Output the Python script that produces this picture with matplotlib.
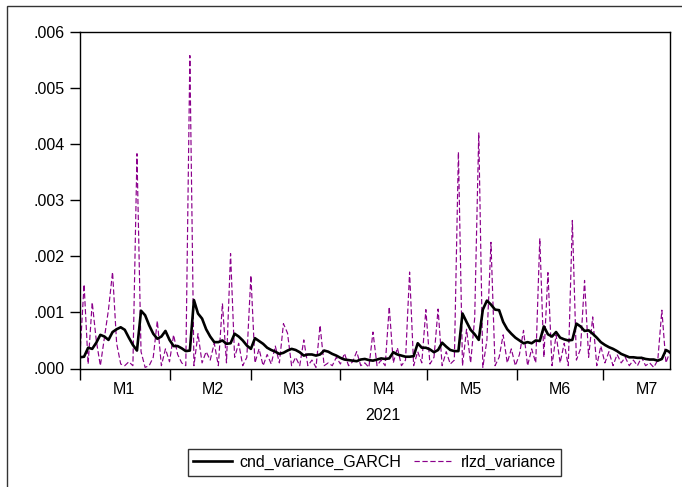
import pandas as pd
import matplotlib
matplotlib.use("Agg")
import matplotlib.pyplot as plt
from matplotlib.patches import Rectangle

plt.rcParams["font.family"] = ["Liberation Sans", "DejaVu Sans"]

# 146 observations spread evenly over 2021-01-01 .. 2021-07-24
dates = pd.date_range("2021-01-01", "2021-07-24", periods=146)

# values, in units of 0.001
garch = [
    0.20, 0.21, 0.37, 0.35, 0.46, 0.60, 0.57, 0.51, 0.65, 0.70,
    0.735, 0.69, 0.55, 0.42, 0.32, 1.03, 0.95, 0.77, 0.62, 0.53,
    0.57, 0.67, 0.51, 0.40, 0.40, 0.36, 0.31, 0.32, 1.22, 0.98,
    0.89, 0.70, 0.57, 0.47, 0.47, 0.50, 0.44, 0.45, 0.62, 0.57,
    0.50, 0.41, 0.35, 0.54, 0.49, 0.44, 0.37, 0.33, 0.30, 0.26,
    0.28, 0.32, 0.35, 0.33, 0.29, 0.23, 0.25, 0.25, 0.23, 0.25,
    0.32, 0.30, 0.26, 0.23, 0.19, 0.16, 0.15, 0.14, 0.13, 0.16,
    0.17, 0.15, 0.14, 0.16, 0.18, 0.17, 0.18, 0.29, 0.25, 0.23,
    0.21, 0.21, 0.22, 0.45, 0.37, 0.37, 0.34, 0.29, 0.33, 0.46,
    0.39, 0.33, 0.31, 0.31, 0.98, 0.83, 0.69, 0.61, 0.51, 1.05,
    1.21, 1.14, 1.05, 1.04, 0.83, 0.70, 0.62, 0.55, 0.50, 0.45,
    0.47, 0.45, 0.50, 0.49, 0.75, 0.61, 0.57, 0.65, 0.55, 0.52,
    0.50, 0.51, 0.80, 0.75, 0.67, 0.68, 0.62, 0.55, 0.47, 0.42,
    0.38, 0.35, 0.31, 0.26, 0.23, 0.20, 0.20, 0.19, 0.19, 0.17,
    0.16, 0.16, 0.14, 0.17, 0.33, 0.29,
]

rlzd = [
    0.25, 1.50, 0.08, 1.18, 0.50, 0.05, 0.55, 1.05, 1.72, 0.45,
    0.08, 0.05, 0.12, 0.05, 3.83, 0.30, 0.02, 0.05, 0.20, 0.85,
    0.05, 0.35, 0.12, 0.60, 0.25, 0.10, 0.05, 5.58, 0.05, 0.62,
    0.10, 0.30, 0.15, 0.45, 0.05, 1.16, 0.10, 2.05, 0.20, 0.45,
    0.05, 0.20, 1.66, 0.10, 0.35, 0.05, 0.25, 0.08, 0.40, 0.10,
    0.80, 0.63, 0.05, 0.20, 0.05, 0.51, 0.05, 0.15, 0.02, 0.77,
    0.05, 0.10, 0.05, 0.20, 0.08, 0.27, 0.05, 0.12, 0.30, 0.05,
    0.10, 0.02, 0.65, 0.05, 0.15, 0.05, 1.10, 0.10, 0.37, 0.05,
    0.15, 1.72, 0.05, 0.30, 0.10, 1.05, 0.08, 0.20, 1.06, 0.05,
    0.30, 0.08, 0.15, 3.86, 0.05, 0.70, 0.10, 0.90, 4.20, 0.02,
    0.50, 2.25, 0.05, 0.20, 0.60, 0.10, 0.35, 0.05, 0.25, 0.68,
    0.05, 0.35, 0.10, 2.32, 0.20, 1.71, 0.05, 0.60, 0.10, 0.45,
    0.05, 2.64, 0.15, 0.35, 1.57, 0.20, 0.92, 0.05, 0.40, 0.10,
    0.30, 0.05, 0.25, 0.10, 0.20, 0.05, 0.15, 0.05, 0.20, 0.05,
    0.10, 0.02, 0.15, 1.04, 0.10, 0.30,
]

month_labels = ["M1", "M2", "M3", "M4", "M5", "M6", "M7"]
y_labels = [".000", ".001", ".002", ".003", ".004", ".005", ".006"]

fig = plt.figure(figsize=(6.82, 4.87), dpi=100)
ax = fig.add_axes([80 / 682, 1 - 368.5 / 487, 590 / 682, 336.5 / 487])

ax.plot(dates, rlzd, color="#8B008B", lw=0.85, ls=(0, (4.5, 2.2)),
        label="rlzd_variance", zorder=2)
ax.plot(dates, garch, color="black", lw=1.9, label="cnd_variance_GARCH",
        zorder=3)

ax.set_xlim(dates[0], dates[-1])
ax.set_ylim(0, 6)
ax.set_yticks(range(7))
ax.set_yticklabels(y_labels, fontsize=11.5)

month_starts = pd.date_range("2021-01-01", "2021-07-01", freq="MS")
ax.set_xticks(month_starts)
ax.set_xticklabels([])
ax.set_xticks(month_starts + pd.Timedelta(days=15), minor=True)
ax.set_xticklabels(month_labels, minor=True, fontsize=11.5)

ax.tick_params(axis="x", which="major", length=8, width=1, direction="out")
ax.tick_params(axis="x", which="minor", length=0, pad=10)
ax.tick_params(axis="y", length=7, width=1, direction="out", pad=4)
for s in ax.spines.values():
    s.set_linewidth(1.0)

fig.text(383 / 682, 1 - 415 / 487, "2021", ha="center", va="center",
         fontsize=11.5)

h, l = ax.get_legend_handles_labels()
leg = fig.legend(h[::-1], l[::-1], loc="center", ncol=2,
                 bbox_to_anchor=(374.5 / 682, 1 - 462.5 / 487),
                 fontsize=11.5, frameon=True, fancybox=False,
                 edgecolor="black", handlelength=2.4, handletextpad=0.5,
                 columnspacing=0.8, borderpad=0.35, borderaxespad=0)
leg.get_frame().set_linewidth(1.0)

# outer frame of the graph window
fig.patches.append(Rectangle((6.5 / 682, -0.1), 1.2, 1 - 5.5 / 487 + 0.1,
                             transform=fig.transFigure, fill=False,
                             edgecolor="#333333", lw=1.0))

fig.savefig("out.png", dpi=100)
